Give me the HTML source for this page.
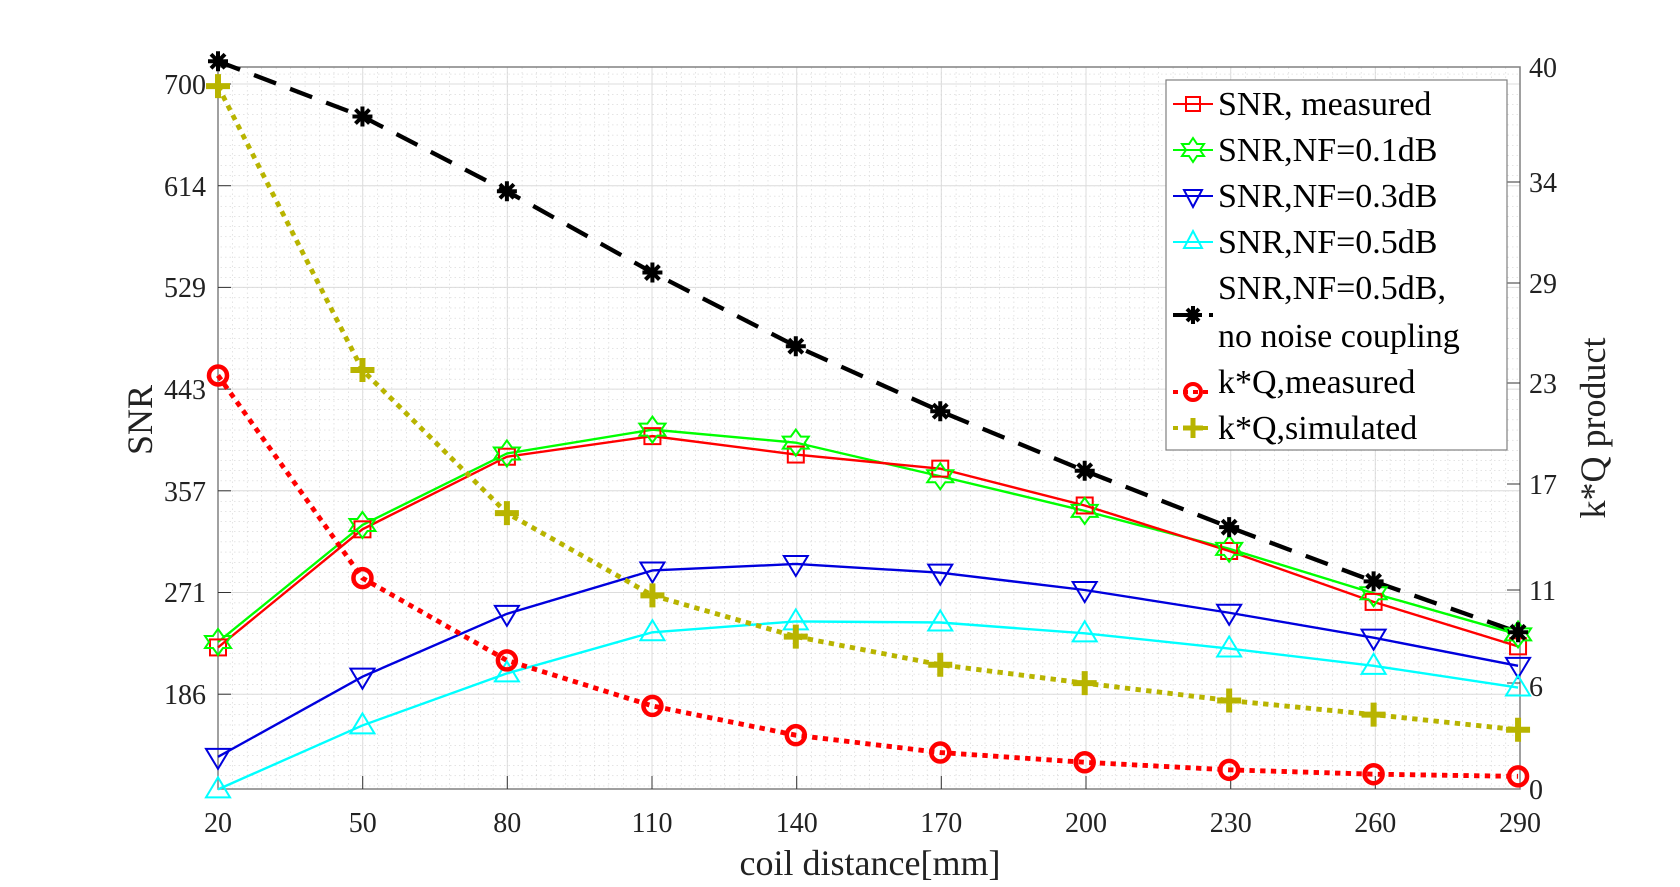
<!DOCTYPE html>
<html><head><meta charset="utf-8"><style>
html,body{margin:0;padding:0;background:#fff;}
svg{display:block;font-family:"Liberation Serif",serif;}
</style></head><body>
<svg width="1680" height="887" viewBox="0 0 1680 887" xmlns="http://www.w3.org/2000/svg">
<defs>
<pattern id="mx" x="218" y="0" width="14.467" height="887" patternUnits="userSpaceOnUse">
<line x1="0" y1="0" x2="0" y2="887" stroke="#c8c8c8" stroke-width="1" stroke-dasharray="1.5,3"/>
</pattern>
<pattern id="my" x="0" y="84" width="1680" height="10.17" patternUnits="userSpaceOnUse">
<line x1="0" y1="0" x2="1680" y2="0" stroke="#c8c8c8" stroke-width="1" stroke-dasharray="1.5,3"/>
</pattern>
<clipPath id="ax"><rect x="218" y="67" width="1302" height="722"/></clipPath>
</defs>
<rect x="218" y="67" width="1302" height="722" fill="#fff"/>
<g clip-path="url(#ax)">
<rect x="218" y="67" width="1302" height="722" fill="url(#mx)"/>
<rect x="218" y="67" width="1302" height="722" fill="url(#my)"/>
<g stroke="#dcdcdc" stroke-width="1">
<line x1="362.7" y1="67" x2="362.7" y2="789"/><line x1="507.3" y1="67" x2="507.3" y2="789"/>
<line x1="652" y1="67" x2="652" y2="789"/><line x1="796.7" y1="67" x2="796.7" y2="789"/>
<line x1="941.3" y1="67" x2="941.3" y2="789"/><line x1="1086" y1="67" x2="1086" y2="789"/>
<line x1="1230.7" y1="67" x2="1230.7" y2="789"/><line x1="1375.3" y1="67" x2="1375.3" y2="789"/>
<line x1="218" y1="84" x2="1520" y2="84"/><line x1="218" y1="185.7" x2="1520" y2="185.7"/>
<line x1="218" y1="287.4" x2="1520" y2="287.4"/><line x1="218" y1="389.1" x2="1520" y2="389.1"/>
<line x1="218" y1="490.8" x2="1520" y2="490.8"/><line x1="218" y1="592.5" x2="1520" y2="592.5"/>
<line x1="218" y1="694.2" x2="1520" y2="694.2"/>
</g>
</g>
<rect x="218" y="67" width="1302" height="722" fill="none" stroke="#808080" stroke-width="1.5"/>
<g stroke="#333" stroke-width="1">
<line x1="218" y1="84" x2="231" y2="84"/><line x1="218" y1="185.7" x2="231" y2="185.7"/>
<line x1="218" y1="287.4" x2="231" y2="287.4"/><line x1="218" y1="389.1" x2="231" y2="389.1"/>
<line x1="218" y1="490.8" x2="231" y2="490.8"/><line x1="218" y1="592.5" x2="231" y2="592.5"/>
<line x1="218" y1="694.2" x2="231" y2="694.2"/>
<line x1="1520" y1="182" x2="1507" y2="182"/><line x1="1520" y1="283" x2="1507" y2="283"/>
<line x1="1520" y1="383" x2="1507" y2="383"/><line x1="1520" y1="484" x2="1507" y2="484"/>
<line x1="1520" y1="590" x2="1507" y2="590"/><line x1="1520" y1="683" x2="1507" y2="683"/>
<line x1="362.7" y1="789" x2="362.7" y2="776"/><line x1="507.3" y1="789" x2="507.3" y2="776"/>
<line x1="652" y1="789" x2="652" y2="776"/><line x1="796.7" y1="789" x2="796.7" y2="776"/>
<line x1="941.3" y1="789" x2="941.3" y2="776"/><line x1="1086" y1="789" x2="1086" y2="776"/>
<line x1="1230.7" y1="789" x2="1230.7" y2="776"/><line x1="1375.3" y1="789" x2="1375.3" y2="776"/>
</g>
<g transform="matrix(1.07,0,0,1.0835,0.79,-5.93)" fill="none">
<g vector-effect="non-scaling-stroke">
<polyline points="203,598 338,490 473,424 609,402 743,414 878,445 1013,477 1148,512 1283,553 1418,591" stroke="#00ff00" stroke-width="2.2"/>
<polyline points="203,603 338,494 473,427 609,408 743,425 878,438 1013,472 1148,514 1283,561 1418,602" stroke="#ff0000" stroke-width="2.2"/>
<polyline points="203,704 338,630 473,572 609,532 743,526 878,534 1013,550 1148,571 1283,594 1418,620" stroke="#0000dd" stroke-width="2.2"/>
<polyline points="203,734 338,675 473,627 609,589 743,579 878,580 1013,590 1148,604 1283,620 1418,640" stroke="#00ffff" stroke-width="2.2"/>
<polyline points="203,62 338,113 473,182 609,257 743,325 878,385 1013,440 1148,492 1283,542 1418,589" stroke="#000" stroke-width="4" stroke-dasharray="22,14"/>
<polyline points="203,352 338,539 473,615 609,657 743,684 878,700 1013,709 1148,716 1283,720 1418,722" stroke="#ff0000" stroke-width="4.5" stroke-dasharray="5,5"/>
<polyline points="203,85 338,347 473,479 609,555 743,593 878,619 1013,636 1148,652 1283,665 1418,679" stroke="#b8b400" stroke-width="4.5" stroke-dasharray="5,5"/>
</g>
</g>
<g id="markers"></g>
<rect x="1166" y="80" width="341" height="370" fill="#fff" stroke="#808080" stroke-width="1.2"/>
<g font-size="34" fill="#000">
<text x="1218" y="115">SNR, measured</text>
<text x="1218" y="161">SNR,NF=0.1dB</text>
<text x="1218" y="207">SNR,NF=0.3dB</text>
<text x="1218" y="253">SNR,NF=0.5dB</text>
<text x="1218" y="299">SNR,NF=0.5dB,</text>
<text x="1218" y="347">no noise coupling</text>
<text x="1218" y="393">k*Q,measured</text>
<text x="1218" y="439">k*Q,simulated</text>
</g>
<g fill="none" stroke-width="2">
<line x1="1173" y1="104" x2="1213" y2="104" stroke="#f00"/><rect x="1186" y="97" width="14" height="14" stroke="#f00"/>
<line x1="1173" y1="150" x2="1213" y2="150" stroke="#0f0"/>
<path d="M1193,138 L1197,144 L1204,144 L1200,150 L1204,156 L1197,156 L1193,162 L1189,156 L1182,156 L1186,150 L1182,144 L1189,144 Z" stroke="#0f0"/>
<line x1="1173" y1="196" x2="1213" y2="196" stroke="#00d"/><path d="M1184,190 L1202,190 L1193,207 Z" stroke="#00d"/>
<line x1="1173" y1="242" x2="1213" y2="242" stroke="#0ff"/><path d="M1184,248 L1202,248 L1193,231 Z" stroke="#0ff"/>
<line x1="1173" y1="315" x2="1213" y2="315" stroke="#000" stroke-width="4" stroke-dasharray="22,14"/>
<line x1="1173" y1="392" x2="1213" y2="392" stroke="#f00" stroke-width="4" stroke-dasharray="5,5"/><circle cx="1193" cy="392" r="8" stroke="#f00" stroke-width="4"/>
<line x1="1173" y1="428" x2="1213" y2="428" stroke="#b8b400" stroke-width="4" stroke-dasharray="5,5"/>
<path d="M1183,428 H1203 M1193,418 V438" stroke="#b8b400" stroke-width="5"/>
<path d="M1184,315 H1202 M1193,306 V324 M1187,309 L1199,321 M1199,309 L1187,321" stroke="#000" stroke-width="4"/>
</g>
<g font-size="28" fill="#222" text-anchor="end">
<text x="206" y="94">700</text><text x="206" y="196">614</text><text x="206" y="297">529</text>
<text x="206" y="399">443</text><text x="206" y="501">357</text><text x="206" y="602">271</text>
<text x="206" y="704">186</text>
</g>
<g font-size="28" fill="#222">
<text x="1529" y="77">40</text><text x="1529" y="192">34</text><text x="1529" y="293">29</text>
<text x="1529" y="393">23</text><text x="1529" y="494">17</text><text x="1529" y="600">11</text>
<text x="1529" y="696">6</text><text x="1529" y="799">0</text>
</g>
<g font-size="28" fill="#222" text-anchor="middle">
<text x="218" y="832">20</text><text x="362.7" y="832">50</text><text x="507.3" y="832">80</text>
<text x="652" y="832">110</text><text x="796.7" y="832">140</text><text x="941.3" y="832">170</text>
<text x="1086" y="832">200</text><text x="1230.7" y="832">230</text><text x="1375.3" y="832">260</text>
<text x="1520" y="832">290</text>
</g>
<text x="870" y="875" font-size="36" text-anchor="middle" fill="#222">coil distance[mm]</text>
<text transform="translate(152,420) rotate(-90)" font-size="36" text-anchor="middle" fill="#222">SNR</text>
<text transform="translate(1605,428) rotate(-90)" font-size="36" text-anchor="middle" fill="#222">k*Q product</text>
<script>
(function(){
var g=document.getElementById('markers');var NS='http://www.w3.org/2000/svg';
var xs=[203,338,473,609,743,878,1013,1148,1283,1418];
function X(x){return 1.07*x+0.79;}function Y(y){return 1.0835*y-5.93;}
var S={
g:[598,490,424,402,414,445,477,512,553,591],
r:[603,494,427,408,425,438,472,514,561,602],
b:[704,630,572,532,526,534,550,571,594,620],
c:[734,675,627,589,579,580,590,604,620,640],
k:[62,113,182,257,325,385,440,492,542,589],
o:[352,539,615,657,684,700,709,716,720,722],
p:[85,347,479,555,593,619,636,652,665,679]};
function add(tag,attrs){var e=document.createElementNS(NS,tag);for(var a in attrs)e.setAttribute(a,attrs[a]);g.appendChild(e);}
for(var i=0;i<10;i++){
var x=X(xs[i]),y;
y=Y(S.r[i]);add('rect',{x:x-8,y:y-8,width:16,height:16,fill:'none',stroke:'#f00','stroke-width':2});
y=Y(S.g[i]);add('path',{d:'M'+x+','+(y-13)+' l5,7 h8 l-4,6 l4,6 h-8 l-5,7 l-5,-7 h-8 l4,-6 l-4,-6 h8 z',fill:'none',stroke:'#0f0','stroke-width':2});
y=Y(S.b[i]);add('path',{d:'M'+(x-12)+','+(y-8)+' h24 l-12,20 z',fill:'none',stroke:'#00d','stroke-width':2});
y=Y(S.c[i]);add('path',{d:'M'+(x-12)+','+(y+8)+' h24 l-12,-20 z',fill:'none',stroke:'#0ff','stroke-width':2});
y=Y(S.k[i]);add('path',{d:'M'+(x-10)+','+y+' h20 M'+x+','+(y-10)+' v20 M'+(x-7)+','+(y-7)+' l14,14 M'+(x+7)+','+(y-7)+' l-14,14',stroke:'#000','stroke-width':4});
y=Y(S.o[i]);add('circle',{cx:x,cy:y,r:9,fill:'none',stroke:'#f00','stroke-width':4.5});
y=Y(S.p[i]);add('path',{d:'M'+(x-12)+','+y+' h24 M'+x+','+(y-12)+' v24',stroke:'#b8b400','stroke-width':6});
}})();
</script>
</svg>
</body></html>
